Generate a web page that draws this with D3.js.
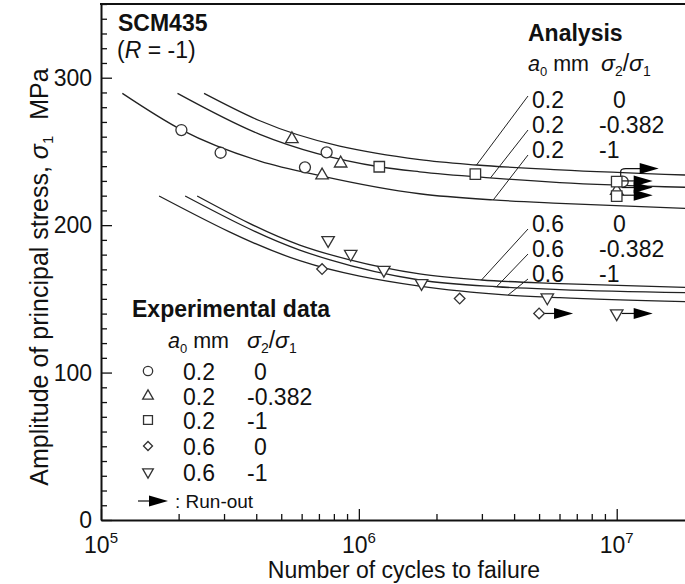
<!DOCTYPE html>
<html><head><meta charset="utf-8">
<script src="https://cdn.jsdelivr.net/npm/d3@7"></script>
<style>
body{margin:0;background:#fff}
text{font-family:"Liberation Sans",Arial,Helvetica,sans-serif;fill:#111}
</style>
</head><body>
<svg id="chart" width="685" height="584"></svg>
<script>
// ---------------- DATA ----------------
const xMajorTicks = [1e5, 1e6, 1e7];
const xTickExponents = ["5", "6", "7"];
const yMajorTicks = [0, 100, 200, 300];

// analysis curves [N, sigma1]
const curveA02_0 = [[2.51e5,289.4],[4.13e5,270.8],[1.72e6,244.4],[2.86e6,240.8],[6.01e6,237.5],[1.84e7,234.0]];
const curveA02_m0382 = [[1.98e5,289.4],[4.13e5,261.6],[1.2e6,239.6],[1.72e6,236.2],[3.22e6,232.1],[6.01e6,228.9],[1.84e7,225.7]];
const curveA02_m1 = [[1.21e5,289.4],[2.06e5,264.5],[4.13e5,243.5],[7.19e5,233.3],[1.72e6,221.3],[3.31e6,217.1],[6.01e6,214.8],[1.84e7,211.4]];
const curveA06_0 = [[2.36e5,219.8],[5.9e5,186.5],[9.23e5,176.4],[1.72e6,166.9],[2.99e6,162.8],[6.01e6,160.4],[1.84e7,157.8]];
const curveA06_m0382 = [[2.12e5,219.8],[5.9e5,183.1],[7.73e5,176.4],[1.72e6,162.8],[3.42e6,158.2],[6.01e6,156.3],[1.84e7,154.2]];
const curveA06_m1 = [[1.68e5,219.8],[5.9e5,175.9],[1.72e6,158.6],[3.79e6,152.6],[6.01e6,150.9],[1.84e7,148.1]];

const analysisA0 = ["0.2","0.2","0.2","0.6","0.6","0.6"];
const analysisRatio = ["0","-0.382","-1","0","-0.382","-1"];
const leaderN = [2.86e6, 3.24e6, 3.32e6, 2.99e6, 3.42e6, 3.79e6];

// experimental data [N, sigma1]
const expCircle = [[2.05e5,264.5],[2.91e5,249.1],[6.18e5,239.2],[7.5e5,249.4]];
const expTriangle = [[5.5e5,258.4],[8.5e5,241.9],[7.2e5,233.8]];
const expSquare = [[1.2e6,239.6],[2.83e6,234.6]];
const expDiamond = [[7.2e5,170.2],[2.46e6,150.2]];
const expInvTriangle = [[7.6e5,189.8],[9.3e5,180.4],[1.25e6,169.6],[1.75e6,160.6],[5.38e6,150.9]];

// run-out specimens
const runoutShape = ["circle","triangle","square","square","diamond","invTriangle"];
const runoutN = [1.055e7, 1e7, 1e7, 1e7, 5e6, 1e7];
const runoutS = [229.5, 223.3, 229.5, 219.7, 140.1, 140.1];
const runoutArrowS = [238.4, 225.5, 230.0, 220.3, 140.1, 140.1];

const legendShapes = ["circle","triangle","square","diamond","invTriangle"];
const legendA0 = ["0.2","0.2","0.2","0.6","0.6"];
const legendRatio = ["0","-0.382","-1","0","-1"];

// ---------------- CHART ----------------
const svg = d3.select("#chart");
const x = d3.scaleLog().domain([1e5, 1.84e7]).range([101, 685]);
const y = d3.scaleLinear().domain([0, 350]).range([520, 4]);
const FS = 23;

// minor ticks
const xMinor = [];
[1e5,1e6,1e7].forEach(d => { for (let k=2;k<=9;k++){ const v=d*k; if (v<=1.84e7) xMinor.push(v);} });
const yMinor = d3.range(0, 351, 10).filter(v => v % 100 !== 0);

const gx = svg.append("g").attr("transform","translate(0,520)");
gx.call(d3.axisBottom(x).tickValues(xMinor).tickSizeInner(-6).tickSizeOuter(0).tickFormat(""));
gx.append("g").call(d3.axisBottom(x).tickValues(xMajorTicks).tickSizeInner(-11).tickSizeOuter(0).tickFormat(""))
  .select(".domain").remove();
const gy = svg.append("g").attr("transform","translate(101,0)");
gy.call(d3.axisLeft(y).tickValues(yMinor).tickSizeInner(-6).tickSizeOuter(0).tickFormat(""));
gy.append("g").call(d3.axisLeft(y).tickValues(yMajorTicks).tickSizeInner(-11).tickSizeOuter(0).tickFormat(""))
  .select(".domain").remove();
svg.selectAll(".domain").attr("stroke","#111").attr("stroke-width",2);
svg.selectAll(".tick line").attr("stroke","#111").attr("stroke-width",1.3);
// top frame
svg.append("line").attr("x1",x.range()[0]-1).attr("x2",x.range()[1]).attr("y1",y(350)).attr("y2",y(350))
  .attr("stroke","#111").attr("stroke-width",2);

// tick labels
yMajorTicks.forEach(v => {
  svg.append("text").attr("x",92).attr("y",y(v)).attr("dy","0.36em").attr("text-anchor","end")
    .attr("font-size",FS).text(v);
});
xMajorTicks.forEach((v,i) => {
  const t = svg.append("text").attr("x",x(v)).attr("y",553).attr("text-anchor","middle").attr("font-size",FS);
  t.append("tspan").text("10");
  t.append("tspan").attr("font-size",15).attr("dy",-10).text(xTickExponents[i]);
});

// axis titles
svg.append("text").attr("x",404).attr("y",578).attr("text-anchor","middle").attr("font-size",FS)
  .text("Number of cycles to failure");
const yt = svg.append("text").attr("transform","translate(48,277) rotate(-90)").attr("text-anchor","middle").attr("font-size",25);
yt.append("tspan").text("Amplitude of principal stress, ");
yt.append("tspan").attr("font-style","italic").text("σ");
yt.append("tspan").attr("font-size",15).attr("dy",5).text("1");
yt.append("tspan").attr("dy",-5).attr("dx",16).text("MPa");

// curves
const line = d3.line().x(d=>x(d[0])).y(d=>y(d[1])).curve(d3.curveMonotoneX);
const curves = [curveA02_0, curveA02_m0382, curveA02_m1, curveA06_0, curveA06_m0382, curveA06_m1];
svg.append("g").selectAll("path").data(curves).join("path")
  .attr("d", line).attr("fill","none").attr("stroke","#222").attr("stroke-width",1.3);

function sAt(curve, N){
  const l = Math.log10(N);
  for (let i=0;i<curve.length-1;i++){
    const l0=Math.log10(curve[i][0]), l1=Math.log10(curve[i+1][0]);
    if (l>=l0 && l<=l1){ const t=(l-l0)/(l1-l0); return curve[i][1]+t*(curve[i+1][1]-curve[i][1]); }
  }
  return curve[curve.length-1][1];
}

// analysis legend
svg.append("text").attr("x",528).attr("y",41).attr("font-size",FS).attr("font-weight","bold").text("Analysis");
function headerRow(xa, xr, yb){
  const t1 = svg.append("text").attr("x",xa).attr("y",yb).attr("font-size",21.5);
  t1.append("tspan").attr("font-style","italic").text("a");
  t1.append("tspan").attr("font-size",13).attr("dy",5).text("0");
  t1.append("tspan").attr("dy",-5).attr("dx",6).text("mm");
  const t2 = svg.append("text").attr("x",xr).attr("y",yb).attr("font-size",FS);
  t2.append("tspan").attr("font-style","italic").text("σ");
  t2.append("tspan").attr("font-size",14).attr("dy",5).text("2");
  t2.append("tspan").attr("dy",-5).text("/");
  t2.append("tspan").attr("font-style","italic").text("σ");
  t2.append("tspan").attr("font-size",14).attr("dy",5).text("1");
}
headerRow(528, 601, 71);
const anBase = [108,133,158,232,257,282];
analysisA0.forEach((a,i) => {
  svg.append("text").attr("x",532).attr("y",anBase[i]).attr("font-size",FS).text(a);
  svg.append("text").attr("x",analysisRatio[i]==="0"?613:599).attr("y",anBase[i]).attr("font-size",FS).text(analysisRatio[i]);
  const nEnd = leaderN[i];
  svg.append("line").attr("x1",528).attr("y1",anBase[i]-(i===0?12:3))
    .attr("x2",x(nEnd)).attr("y2",y(sAt(curves[i], nEnd)))
    .attr("stroke","#222").attr("stroke-width",1);
});

// markers
function symbolPath(shape, scale){
  const s = scale || 1;
  if (shape==="circle") return d3.symbol(d3.symbolCircle, Math.PI*5.5*5.5*s*s)();
  if (shape==="square") return d3.symbol(d3.symbolSquare, 10.5*10.5*s*s)();
  if (shape==="diamond") return d3.symbol(d3.symbolSquare, 7.5*7.5*s*s)();
  return d3.symbol(d3.symbolTriangle, 0.433*12.5*12.5*s*s)();
}
function symbolRot(shape){ return shape==="diamond"?45:(shape==="invTriangle"?180:0); }
function drawMarker(g, shape, px, py, scale){
  g.append("path").attr("d",symbolPath(shape,scale))
    .attr("transform",`translate(${px},${py}) rotate(${symbolRot(shape)})`)
    .attr("fill","#fff").attr("stroke","#333").attr("stroke-width",1.3);
}
function drawArrow(g, x0, yy, x1){
  g.append("line").attr("x1",x0).attr("x2",x1-17).attr("y1",yy).attr("y2",yy).attr("stroke","#111").attr("stroke-width",1.2);
  g.append("path").attr("d",`M${x1-19},${yy-5.5}L${x1},${yy}L${x1-19},${yy+5.5}Z`).attr("fill","#000");
}

const gm = svg.append("g");
const expSets = [["circle",expCircle],["triangle",expTriangle],["square",expSquare],["diamond",expDiamond],["invTriangle",expInvTriangle]];
expSets.forEach(([shape,data]) => data.forEach(d => drawMarker(gm, shape, x(d[0]), y(d[1]))));

// run-outs
runoutShape.forEach((shape,i) => {
  const px = x(runoutN[i]), py = y(runoutS[i]), ay = y(runoutArrowS[i]);
  const xe = x(runoutN[i]) + 36;
  if (shape==="circle"){
    gm.append("path").attr("d",`M${px-2},${py-5}L${px-2},${ay+3}Q${px-2},${ay} ${px+3},${ay}L${xe-17},${ay}`)
      .attr("fill","none").attr("stroke","#111").attr("stroke-width",1.2);
    gm.append("path").attr("d",`M${xe-19},${ay-5.5}L${xe},${ay}L${xe-19},${ay+5.5}Z`).attr("fill","#000");
    drawMarker(gm, shape, px, py);
  } else {
    drawArrow(gm, px+5, ay, shape==="diamond"? px+34 : xe);
    drawMarker(gm, shape, px, py);
  }
});

// top-left label
svg.append("text").attr("x",118).attr("y",31).attr("font-size",FS).attr("font-weight","bold").text("SCM435");
const rt = svg.append("text").attr("x",117).attr("y",58).attr("font-size",FS);
rt.append("tspan").text("(");
rt.append("tspan").attr("font-style","italic").text("R");
rt.append("tspan").text(" = -1)");

// experimental legend
svg.append("text").attr("x",132).attr("y",317).attr("font-size",FS).attr("font-weight","bold").text("Experimental data");
headerRow(168, 247, 348);
const exBase = [380,405,429,455,481];
legendShapes.forEach((shape,i) => {
  drawMarker(svg, shape, 148, exBase[i]-9, 0.85);
  svg.append("text").attr("x",183).attr("y",exBase[i]).attr("font-size",FS).text(legendA0[i]);
  svg.append("text").attr("x",legendRatio[i]==="0"?254:247).attr("y",exBase[i]).attr("font-size",FS).text(legendRatio[i]);
});
drawArrow(svg, 138, 501, 168);
svg.append("text").attr("x",175).attr("y",508).attr("font-size",19).text(": Run-out");
</script>
</body></html>
